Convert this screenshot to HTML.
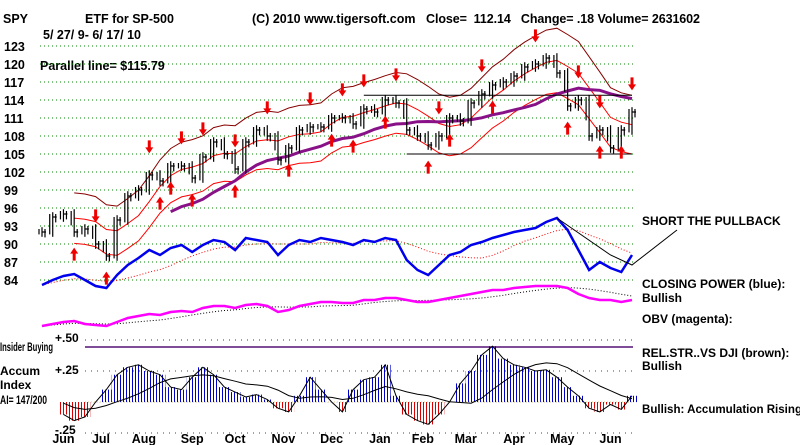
<!DOCTYPE html>
<html><head><meta charset="utf-8"><style>
body{margin:0;background:#fff;}
svg{display:block;font-family:"Liberation Sans",sans-serif;font-weight:bold;}
</style></head><body>
<svg id="c" width="800" height="445" viewBox="0 0 800 445">
<defs>
<pattern id="blueS" width="3" height="4" patternUnits="userSpaceOnUse"><rect width="1" height="4" fill="#0000cc"/></pattern>
<pattern id="redS" width="3" height="4" patternUnits="userSpaceOnUse"><rect width="1" height="4" fill="#dd0000"/></pattern>
</defs>
<g font-size="12.5" fill="#000">
<text x="3" y="23">SPY</text>
<text x="85" y="23">ETF for SP-500</text>
<text x="252" y="23">(C) 2010 www.tigersoft.com</text>
<text x="426" y="23" xml:space="preserve" textLength="274">Close=  112.14   Change= .18 Volume= 2631602</text>
<text x="43" y="39">5/ 27/ 9- 6/ 17/ 10</text>
<text x="40" y="70">Parallel line= $115.79</text>
</g>
<g id="grid"></g><g id="marks"></g>
<g font-size="12" fill="#000">
<text x="642" y="225">SHORT THE PULLBACK</text>
<text x="642" y="288">CLOSING POWER (blue):</text>
<text x="642" y="302">Bullish</text>
<text x="642" y="323">OBV (magenta):</text>
<text x="642" y="357">REL.STR..VS DJI (brown):</text>
<text x="642" y="370">Bullish</text>
<text x="642" y="413" textLength="160" lengthAdjust="spacingAndGlyphs">Bullish: Accumulation Rising</text>
<text x="0" y="351" textLength="53" lengthAdjust="spacingAndGlyphs">Insider Buying</text>
<text x="0" y="375">Accum</text>
<text x="0" y="389">Index</text>
<text x="0" y="404" textLength="47" lengthAdjust="spacingAndGlyphs">AI= 147/200</text>
<text x="55" y="342">+.50</text>
<text x="55" y="374">+.25</text>
<text x="55" y="434">-.25</text>
</g>
</svg>
<script>
const priceTicks=[123,120,117,114,111,108,105,102,99,96,93,90,87,84];
const months=["Jun","Jul","Aug","Sep","Oct","Nov","Dec","Jan","Feb","Mar","Apr","May","Jun"];
const monthWeek=[2,5.5,9.5,14,18,22.5,27,31.5,35.5,39.5,44,48.5,53];
const closes=[92,94.5,95,92,92.5,90,88,94,98,99,101.5,100.5,103,103,101,104.5,107,105,102.5,107,109,108,104,106,109,109.5,109.5,111,111,110,112.5,112,114,113.5,109,108,106.5,108,111,110.5,113.5,115,116.5,117,118,119.5,120,121,118.5,113,114,108,109,106,109,112];
const closingPower=[15,20,24,26,20,14,12,25,35,42,50,45,52,55,48,55,60,58,50,62,60,58,45,55,60,58,62,60,58,55,60,58,62,60,40,30,25,35,45,48,55,58,62,65,68,70,72,78,82,70,50,30,38,32,28,45];
const obv=[4,6,8,9,6,5,4,8,12,14,16,15,18,19,18,22,24,24,22,25,26,24,18,20,24,26,28,28,27,27,30,30,32,32,30,28,28,30,32,34,36,38,40,40,42,43,44,44,44,42,36,32,30,30,28,30];
const accum=[0.05,0.02,-0.1,-0.15,-0.12,0.0,0.1,0.22,0.28,0.3,0.25,0.22,0.12,0.1,0.2,0.28,0.22,0.12,0.08,0.04,0.06,0.02,-0.05,-0.08,0.05,0.2,0.1,0.0,-0.08,0.1,0.18,0.2,0.3,0.05,-0.1,-0.15,-0.18,-0.1,0.0,0.15,0.25,0.38,0.45,0.35,0.3,0.28,0.25,0.26,0.2,0.12,0.05,-0.05,-0.08,-0.02,-0.06,0.05];
const upArrows=[3,6,11,12,14,18,23,27,29,32,36,38,42,49,52,54];
const downArrows=[5,10,13,15,18,21,25,28,30,33,37,41,46,50,52,55];

const NS="http://www.w3.org/2000/svg";
const G=document.getElementById('grid'),M=document.getElementById('marks');
const X0=42,X1=632,N=closes.length;
const xw=i=>X0+i*(X1-X0)/(N-1);
const yp=p=>46+(123-p)*6;
const ycp=v=>300-v;
const yobv=v=>330-v;
const ya=v=>402-v*124;
function el(t,a,p){const e=document.createElementNS(NS,t);for(const k in a)e.setAttribute(k,a[k]);(p||M).appendChild(e);return e;}
function poly(vals,fx,fy){return vals.map((v,i)=>fx(i).toFixed(1)+','+fy(v).toFixed(1)).join(' ');}
function ma(arr,n){return arr.map((v,i)=>{const s=arr.slice(Math.max(0,i-n+1),i+1);return s.reduce((a,b)=>a+b,0)/s.length;});}

priceTicks.forEach(t=>{
 const l=el('line',{x1:40,x2:633,y1:yp(t),y2:yp(t),stroke:'#008800','stroke-dasharray':'1 3'},G);
 
 const tx=el('text',{x:4,y:yp(t)+5,'font-size':12.5},G);tx.textContent=t;
 
});
[[0.5,'#cc0000'],[0.25,'#444'],[-0.25,'#444']].forEach(([v,c])=>{
 const l=el('line',{x1:85,x2:633,y1:ya(v),y2:ya(v),stroke:c,'stroke-dasharray':'1 5'},G);
 
});
const ins=el('line',{x1:85,x2:633,y1:347,y2:347,stroke:'#551177','stroke-width':1.5},G);

const zl=el('line',{x1:85,x2:633,y1:ya(0),y2:ya(0),stroke:'#ddcc88','stroke-dasharray':'1 2'},G);


const m5=ma(closes,5),m13=ma(closes,13);
const bands=[[m5.map(v=>v*1.055),'#880000',1,'upper-band'],[m5.map(v=>v*1.01),'#ff0000',1,'inner-band'],[m5.map(v=>v*0.965),'#ff0000',1,'lower-band']];
bands.forEach(([a,c,w,n])=>{const p=el('polyline',{points:poly(a.slice(3),i=>xw(i+3),yp),fill:'none',stroke:c,'stroke-width':w});
 });
const pm=el('polyline',{points:poly(m13.slice(12),i=>xw(i+12),yp),fill:'none',stroke:'#881188','stroke-width':3});

[[114.8,30,55],[105,34,55]].forEach(([p,a,b])=>{const l=el('line',{x1:xw(a),x2:xw(b),y1:yp(p),y2:yp(p),stroke:'#000'});
 });

closes.forEach((c,i)=>{
 const pr=i?closes[i-1]:c;const hi=Math.max(pr,c)+0.8,lo=Math.min(pr,c)-0.8;
 const g=el('g',{stroke:'#000','stroke-width':1.2});
 
 const x=xw(i);
 el('line',{x1:x-3,x2:x-3,y1:yp(hi-0.3),y2:yp((pr+lo)/2)},g);
 el('line',{x1:x,x2:x,y1:yp(hi),y2:yp(lo)},g);
 el('line',{x1:x+3,x2:x+3,y1:yp(c+0.5),y2:yp(c-0.9)},g);
 el('line',{x1:x,x2:x+4,y1:yp(c),y2:yp(c)},g);
});
function arrow(i,up){const x=xw(i),c=closes[i];const y=up?yp(c-2.6):yp(c+3.6);
 const d=up?`M${x},${y} l-4,6 h2.5 v7 h3 v-7 h2.5 z`:`M${x},${y} l-4,-6 h2.5 v-7 h3 v7 h2.5 z`;
 const p=el('path',{d,fill:'#ee0000'});
 }
upArrows.forEach(i=>arrow(i,true));downArrows.forEach(i=>arrow(i,false));

const cpm=ma(closingPower,8);
const cpd=el('polyline',{points:poly(cpm,xw,ycp),fill:'none',stroke:'#ff0000','stroke-dasharray':'1 2'});

const cp=el('polyline',{points:poly(closingPower,xw,ycp),fill:'none',stroke:'#0000ee','stroke-width':2.5});

const tl=el('polyline',{points:`${xw(48)},${ycp(82)} ${xw(53)},${ycp(45)} ${xw(55)},${ycp(35)} ${xw(55)+45},${ycp(70)}`,fill:'none',stroke:'#000'});

const om=ma(obv,8);
const od=el('polyline',{points:poly(om,xw,yobv),fill:'none',stroke:'#000','stroke-dasharray':'1 2'});

const ob=el('polyline',{points:poly(obv,xw,yobv),fill:'none',stroke:'#ff00ff','stroke-width':2.5});

const w=(X1-X0)/(N-1);
accum.forEach((v,i)=>{if(xw(i)<55)return;const y0=ya(0),y1=ya(v);
 const r=el('rect',{x:xw(i)-w/2,width:w,y:Math.min(y0,y1),height:Math.abs(y1-y0)+0.1,fill:v>=0?'url(#blueS)':'url(#redS)'});
 });
const al=el('polyline',{points:poly(accum.slice(2),i=>xw(i+2),ya),fill:'none',stroke:'#000'});

const am=el('polyline',{points:poly(ma(accum,8).slice(2),i=>xw(i+2),ya),fill:'none',stroke:'#000'});

months.forEach((m,k)=>{const t=el('text',{x:xw(monthWeek[k]),y:443,'font-size':12.5,'text-anchor':'middle'});t.textContent=m;
 });
</script>
</body></html>
